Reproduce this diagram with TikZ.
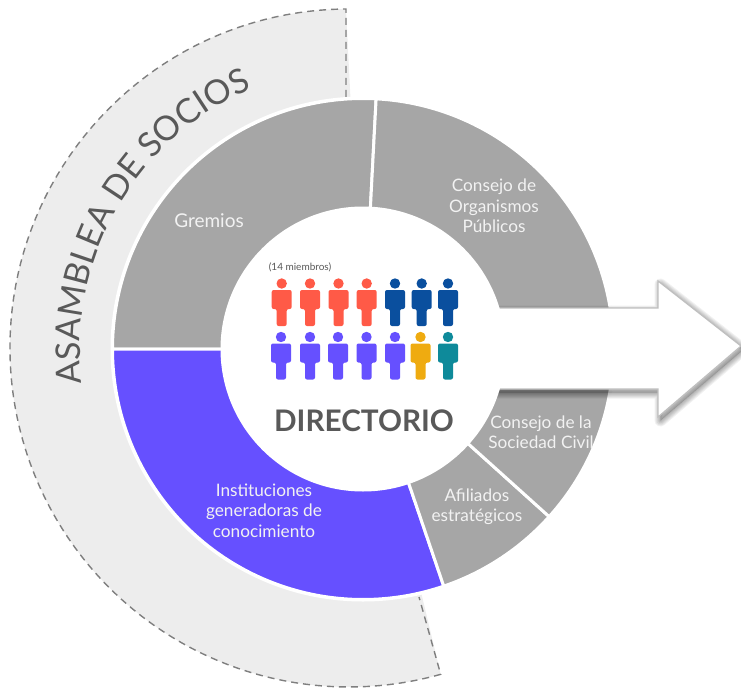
\documentclass[tikz,border=0pt]{standalone}
\usepackage{fontspec}
\setmainfont{Lato}
\usetikzlibrary{decorations.text}
\definecolor{sectorgrey}{HTML}{A6A6A6}
\definecolor{sectorpurple}{HTML}{6650FF}
\definecolor{crescent}{HTML}{EDEDED}
\definecolor{dashgrey}{HTML}{7F7F7F}
\definecolor{pred}{HTML}{FF5A47}
\definecolor{pblue}{HTML}{0A4F9E}
\definecolor{pgold}{HTML}{EFAB10}
\definecolor{pteal}{HTML}{0E8A9A}
\definecolor{titlegrey}{HTML}{595959}
\definecolor{labelwhite}{HTML}{F2F2F2}
\definecolor{arrowedge}{HTML}{BFBFBF}
\tikzset{
  sectorshape/.style={draw=white,line width=3pt,line join=miter},
  seclabel/.style={text=labelwhite,font=\fontsize{17.2}{20.5}\selectfont,align=center,inner sep=0pt},
  person/.pic={
    \fill[#1] (0,-6.5) circle (5.2pt);
    \fill[#1,rounded corners=2pt] (-10,-13) -- (10,-13) -- (10,-32) -- (5,-32) -- (5,-49) -- (-5,-49) -- (-5,-32) -- (-10,-32) -- cycle;
  },
}
\newcommand{\sectorfill}[3]{%
  \filldraw[sectorshape,fill=#3] ([shift={(#1:250.5pt)}]C) arc[start angle=#1,end angle=#2,radius=250.5pt] -- (C) -- cycle;}
\newcommand{\arrowoutline}{(480,-308) -- (658,-308) -- (658,-281) -- (741,-346) -- (658,-417) -- (658,-389) -- (480,-389) -- cycle}
\begin{document}
\begin{tikzpicture}[x=1pt,y=1pt]
\useasboundingbox (0,-690) rectangle (741,0);
\coordinate (C) at (363,-349);
\coordinate (a1) at (346,-97);
\coordinate (a2) at (346,-9);
\coordinate (b2) at (419,-597);
% crescent
\fill[crescent] (a2) arc[start angle=90.5,end angle=285.7,radius=339pt] -- (C) -- cycle;
\fill[white] (C) circle (252.5pt);
\draw[dashgrey,line width=1.4pt,dash pattern=on 7pt off 5pt] (a1) -- (a2) arc[start angle=90.5,end angle=285.7,radius=339pt] -- (b2);
% sectors
\sectorfill{87}{180}{sectorgrey}
\sectorfill{180}{288.8}{sectorpurple}
\sectorfill{288.8}{318}{sectorgrey}
\sectorfill{-42}{87}{sectorgrey}
% arrow shadow
\begin{scope}
\clip (0,-690) rectangle (741,0);
\foreach \w in {12,10,8,6,4,2,0.5}{
  \draw[black,draw opacity=.055,fill=black,fill opacity=.02,line width=\w pt,line join=round,shift={(2.5,-3.5)}] \arrowoutline;
}
\end{scope}
% arrow
\filldraw[fill=white,draw=arrowedge,line width=1.2pt,line join=miter] \arrowoutline;
% inner disc
\fill[white] (C) circle (142.5pt);
% people
\foreach \x/\c in {281.7/pred,310/pred,338.5/pred,366.7/pred,395/pblue,421.7/pblue,448/pblue}
  \pic at (\x,-277) {person=\c};
\foreach \x/\c in {281/sectorpurple,310/sectorpurple,338/sectorpurple,366.5/sectorpurple,395/sectorpurple,420.5/pgold,448/pteal}
  \pic at (\x,-330.5) {person=\c};
% labels
\node[inner sep=0pt,text=black!65,font=\fontsize{10}{12}\selectfont] (members) at (300,-267) {(14 miembros)};
\node[inner sep=0pt,text=titlegrey,font=\fontsize{29.7}{32}\bfseries\selectfont] (title) at (364,-421) {DIRECTORIO};
\node[seclabel,font=\fontsize{19}{22}\selectfont] (gremios) at (209,-221) {Gremios};
\node[seclabel] (organismos) at (494,-206) {Consejo de\\Organismos\\Públicos};
\node[seclabel] (civil) at (541,-432) {Consejo de la\\Sociedad Civil};
\node[seclabel] (afiliados) at (477,-506.5) {Afiliados\\estratégicos};
\node[seclabel] (instituciones) at (264,-510.5) {Instituciones\\generadoras de\\conocimiento};
\path[decorate,decoration={text along path,text align=center,text={|\fontsize{34}{36}\selectfont\color{titlegrey}|ASAMBLEA DE SOCIOS}}]
  ([shift={(195:283pt)}]C) arc[start angle=195,end angle=105,radius=283pt];
\end{tikzpicture}
\end{document}
